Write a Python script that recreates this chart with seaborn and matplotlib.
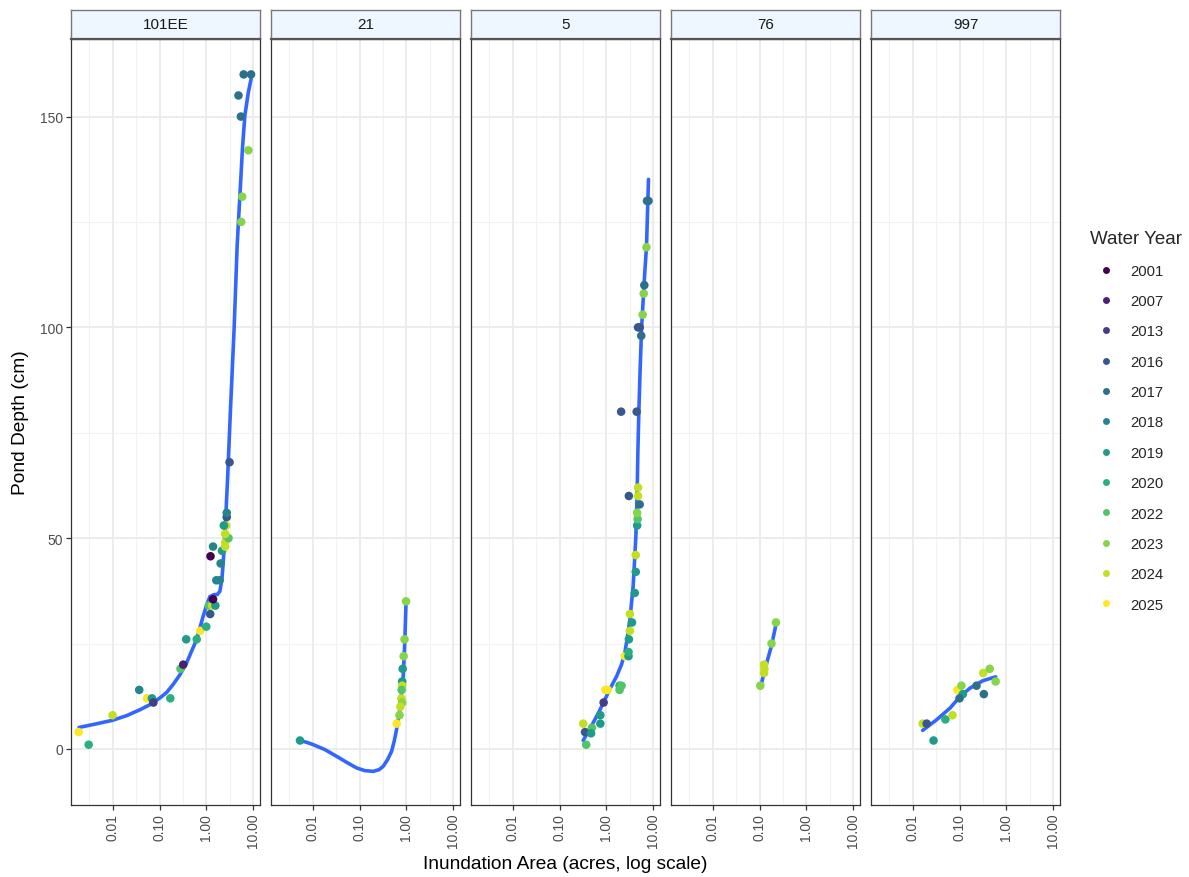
import numpy as np
import pandas as pd
import matplotlib
matplotlib.use("Agg")
import matplotlib.pyplot as plt
from matplotlib.lines import Line2D
from matplotlib.ticker import FixedLocator, NullFormatter
import seaborn as sns

# ---------------- data ----------------
ponds = ["101EE", "21", "5", "76", "997"]
years = ["2001", "2007", "2013", "2016", "2017", "2018", "2019", "2020",
         "2022", "2023", "2024", "2025"]

area_101EE = [0.0019, 0.0031, 0.010, 0.037, 0.054, 0.069, 0.074, 0.17, 0.28, 0.32,
              0.37, 0.62, 0.74, 0.99, 1.20, 1.12, 1.32, 1.55, 1.38, 1.62, 1.91, 2.0,
              1.22, 1.38, 2.14, 2.5, 2.5, 2.95, 2.5, 2.63, 2.34, 2.7, 2.7, 3.1,
              6.2, 8.9, 4.8, 5.4, 7.8, 5.75, 5.5]
depth_101EE = [4, 1, 8, 14, 12, 12, 11, 12, 19, 20,
               26, 26, 28, 29, 32, 34, 34, 34, 35.5, 40, 40, 44,
               45.7, 48, 47, 48, 49, 50, 51, 53, 53, 55, 56, 68,
               160, 160, 155, 150, 142, 131, 125]
year_101EE = ["2025", "2020", "2024", "2018", "2025", "2019", "2013", "2020", "2022", "2007",
              "2019", "2020", "2025", "2020", "2016", "2022", "2024", "2019", "2001", "2018",
              "2018", "2018", "2001", "2018", "2019", "2024", "2024", "2022", "2024", "2024",
              "2019", "2016", "2018", "2016", "2017", "2017", "2017", "2017", "2023", "2023",
              "2023"]

area_21 = [0.0054, 0.98, 0.91, 0.87, 0.83, 0.81, 0.81, 0.79, 0.78, 0.81, 0.74, 0.71, 0.62]
depth_21 = [2, 35, 26, 22, 19, 16, 15, 14, 12, 11, 10, 8, 6]
year_21 = ["2019", "2023", "2023", "2023", "2019", "2019", "2024", "2022", "2024", "2023",
           "2024", "2023", "2025"]

area_5 = [0.37, 0.32, 0.35, 0.49, 0.47, 0.74, 0.74, 0.87, 0.95, 1.07,
          1.9, 2.1, 1.9, 2.45, 2.95, 2.95, 3.0, 3.15, 3.5, 3.15,
          4.0, 4.2, 4.2, 4.5, 4.6, 4.5, 5.1, 3.0, 4.7, 4.7,
          2.05, 4.4, 5.5, 4.7, 5.1, 5.9, 6.2, 6.4, 7.1, 7.3, 7.85]
depth_5 = [1, 6, 4, 5, 3.7, 8, 6, 11, 14, 14,
           15, 15, 14, 22, 22, 23, 26, 28, 30, 32,
           37, 42, 46, 53, 54.5, 56, 58, 60, 60, 62,
           80, 80, 98, 100, 100, 103, 108, 110, 119, 130, 130]
year_5 = ["2022", "2024", "2016", "2022", "2019", "2019", "2019", "2013", "2025", "2025",
          "2020", "2022", "2022", "2025", "2019", "2020", "2019", "2024", "2019", "2024",
          "2019", "2019", "2024", "2019", "2022", "2023", "2017", "2016", "2024", "2024",
          "2016", "2016", "2017", "2016", "2016", "2023", "2023", "2017", "2023", "2017",
          "2017"]

area_76 = [0.104, 0.125, 0.127, 0.125, 0.18, 0.224]
depth_76 = [15, 20, 19, 18, 25, 30]
year_76 = ["2023", "2024", "2024", "2024", "2023", "2023"]

area_997 = [0.0164, 0.020, 0.028, 0.050, 0.071, 0.090, 0.110, 0.118, 0.10, 0.23,
            0.33, 0.32, 0.44, 0.589]
depth_997 = [6, 6, 2, 7, 8, 14, 15, 13, 12, 15, 13, 18, 19, 16]
year_997 = ["2024", "2016", "2019", "2020", "2024", "2025", "2023", "2019", "2017", "2017",
            "2017", "2024", "2023", "2023"]

# smoothed (loess) trend lines
smooth_area_101EE = [0.00193, 0.0039, 0.0100, 0.020, 0.0383, 0.0625, 0.102, 0.142, 0.195,
                     0.272, 0.377, 0.482, 0.616, 0.724, 0.851, 1.00, 1.18, 1.44, 1.69,
                     1.93, 2.13, 2.27, 2.50, 2.81, 3.23, 3.89, 4.50, 4.80, 5.14, 5.83,
                     6.56, 7.78, 8.9]
smooth_depth_101EE = [5.1, 5.8, 6.8, 7.9, 9.3, 10.5, 12.1, 13.4, 15.3,
                      17.6, 20.4, 23.2, 25.9, 28.7, 31.5, 34.0, 36.1, 36.6, 36.6,
                      37.4, 40.2, 44.1, 52.0, 63.9, 80, 100, 119.3, 125.2, 131, 142.3,
                      150.2, 155.7, 158.9]
smooth_area_21 = [0.0054, 0.0075, 0.0103, 0.0184, 0.0326, 0.0532, 0.0867, 0.130, 0.196,
                  0.262, 0.319, 0.396, 0.482, 0.547, 0.615, 0.724, 0.851, 0.925, 0.98]
smooth_depth_21 = [1.97, 1.57, 1.02, -0.17, -1.76, -3.18, -4.51, -5.15, -5.32,
                   -4.91, -4.13, -2.54, -0.57, 1.80, 4.58, 9.33, 17.2, 25.9, 35.0]
smooth_area_5 = [0.319, 0.408, 0.521, 0.700, 0.925, 1.22, 1.64, 2.09, 2.46, 2.81, 3.15,
                 3.42, 3.70, 3.96, 4.23, 4.50, 4.66, 4.89, 5.21, 5.58, 6.34, 7.13, 7.85]
smooth_depth_5 = [2.0, 4.1, 6.2, 8.9, 11.7, 14.5, 17.2, 20.0, 22.8, 26.7, 30.7,
                  34.7, 38.6, 44.5, 50.5, 60.8, 70.3, 79.8, 90.0, 99.5, 110.6, 119.3, 135.1]
smooth_area_76 = [0.104, 0.130, 0.182, 0.224]
smooth_depth_76 = [14.4, 18.8, 24.7, 29.5]
smooth_area_997 = [0.0164, 0.0324, 0.063, 0.102, 0.166, 0.316, 0.589]
smooth_depth_997 = [4.4, 6.9, 9.7, 12.4, 14.4, 16.2, 17.1]

x_ticks = [0.01, 0.1, 1, 10]
x_tick_labels = ["0.01", "0.10", "1.00", "10.00"]
y_ticks = [0, 50, 100, 150]

# ---------------- build tables ----------------
point_sets = {"101EE": (area_101EE, depth_101EE, year_101EE),
              "21": (area_21, depth_21, year_21),
              "5": (area_5, depth_5, year_5),
              "76": (area_76, depth_76, year_76),
              "997": (area_997, depth_997, year_997)}
smooth_sets = {"101EE": (smooth_area_101EE, smooth_depth_101EE),
               "21": (smooth_area_21, smooth_depth_21),
               "5": (smooth_area_5, smooth_depth_5),
               "76": (smooth_area_76, smooth_depth_76),
               "997": (smooth_area_997, smooth_depth_997)}

df = pd.concat([pd.DataFrame({"pond": p, "area": a, "depth": d, "year": yv})
                for p, (a, d, yv) in point_sets.items()], ignore_index=True)
sm = pd.concat([pd.DataFrame({"pond": p, "area": a, "depth": d})
                for p, (a, d) in smooth_sets.items()], ignore_index=True)

cmap = matplotlib.colormaps["viridis"]
pal = {y: cmap(v) for y, v in zip(years, np.linspace(0, 1, len(years)))}

# ---------------- figure ----------------
sns.set_theme(style="whitegrid")
plt.rcParams["font.family"] = ["Liberation Sans", "DejaVu Sans"]

W, H = 1189, 878
fig = plt.figure(figsize=(W / 100, H / 100), dpi=100)
fig.patch.set_facecolor("white")

panel_left0, panel_w, panel_step = 71, 189, 200
panel_top, panel_bot = 40, 806
strip_top = 11

xlim = (10 ** -2.885, 10 ** 1.14)
ylim = (-13.3, 168.4)
minor_x = [10 ** -2.5, 10 ** -1.5, 10 ** -0.5, 10 ** 0.5]
minor_y = [25, 75, 125]

for i, pond in enumerate(ponds):
    left = panel_left0 + panel_step * i
    ax = fig.add_axes([left / W, (H - panel_bot) / H, panel_w / W,
                       (panel_bot - panel_top) / H])
    ax.set_facecolor("white")
    sub = df[df.pond == pond]
    ssub = sm[sm.pond == pond]

    ax.set_xscale("log")
    ax.set_xlim(*xlim)
    ax.set_ylim(*ylim)

    # grid
    ax.grid(False)
    for v in minor_x:
        ax.axvline(v, color="#F2F2F2", lw=0.8, zorder=0)
    for v in minor_y:
        ax.axhline(v, color="#F2F2F2", lw=0.8, zorder=0)
    for v in x_ticks:
        ax.axvline(v, color="#EBEBEB", lw=1.3, zorder=0)
    for v in y_ticks:
        ax.axhline(v, color="#EBEBEB", lw=1.3, zorder=0)

    sns.lineplot(data=ssub, x="area", y="depth", ax=ax, color="#3366FF",
                 lw=2.6, sort=False, estimator=None, zorder=2)
    for ln in ax.lines:
        ln.set_solid_joinstyle("round")
        ln.set_solid_capstyle("round")

    sns.scatterplot(data=sub, x="area", y="depth", hue="year", palette=pal,
                    hue_order=years, s=38, linewidth=0, ax=ax, legend=False,
                    zorder=3)

    ax.xaxis.set_major_locator(FixedLocator(x_ticks))
    ax.set_xticklabels(x_tick_labels, rotation=90)
    ax.xaxis.set_minor_locator(FixedLocator([]))
    ax.xaxis.set_minor_formatter(NullFormatter())
    ax.yaxis.set_major_locator(FixedLocator(y_ticks))
    ax.tick_params(axis="both", which="major", length=3.5, width=0.9,
                   color="#333333", labelsize=10, labelcolor="#4D4D4D", pad=2,
                   bottom=True, left=(i == 0))
    if i != 0:
        ax.set_yticklabels([])
    ax.set_xlabel("")
    ax.set_ylabel("")
    for s in ax.spines.values():
        s.set_color("#333333")
        s.set_linewidth(0.9)

    # strip
    sax = fig.add_axes([left / W, (H - panel_top) / H, panel_w / W,
                        (panel_top - strip_top) / H])
    sax.set_facecolor("#EEF6FF")
    sax.set_xticks([])
    sax.set_yticks([])
    for s in sax.spines.values():
        s.set_color("#7A7A7A")
        s.set_linewidth(1.0)
    sax.spines["bottom"].set_color("#555555")
    sax.spines["bottom"].set_linewidth(1.6)
    sax.text(0.5, 0.5, pond, ha="center", va="center", fontsize=11,
             color="#1A1A1A", transform=sax.transAxes)

fig.text(565 / W, 1 - 865 / H, "Inundation Area (acres, log scale)",
         ha="center", va="center", fontsize=13.8, color="#000000")
fig.text(21 / W, 1 - 423 / H, "Pond Depth (cm)", ha="center", va="center",
         rotation=90, fontsize=13.8, color="#000000")

handles = [Line2D([0], [0], marker="o", linestyle="", markersize=5,
                  markerfacecolor=pal[y], markeredgewidth=0, label=y)
           for y in years]
leg = fig.legend(handles=handles, title="Water Year", loc="upper left",
                 bbox_to_anchor=(1080 / W, 1 - 221 / H), frameon=False,
                 fontsize=10.7, title_fontsize=13.5, labelspacing=1.10,
                 handletextpad=0.55, handlelength=2.15, borderpad=0.2)
leg._legend_box.align = "left"

fig.savefig("out.png", dpi=100, facecolor="white")
